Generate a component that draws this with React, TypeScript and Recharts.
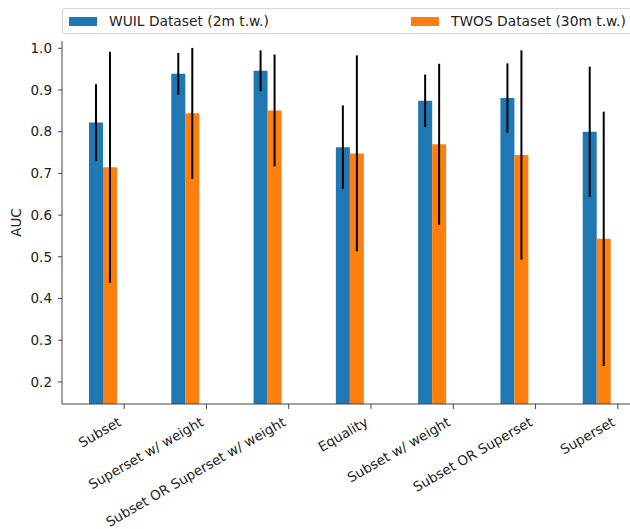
import { BarChart, Bar, XAxis, YAxis, ErrorBar, Legend, Label } from 'recharts';

const categories = [
  'Subset',
  'Superset w/ weight',
  'Subset OR Superset w/ weight',
  'Equality',
  'Subset w/ weight',
  'Subset OR Superset',
  'Superset',
];
const wuilAuc = [0.822, 0.939, 0.946, 0.763, 0.874, 0.881, 0.8];
const wuilErr = [0.092, 0.05, 0.049, 0.1, 0.063, 0.083, 0.156];
const twosAuc = [0.715, 0.844, 0.851, 0.748, 0.77, 0.744, 0.543];
const twosErr = [0.277, 0.157, 0.134, 0.235, 0.193, 0.251, 0.305];
const yTicks = [0.2, 0.3, 0.4, 0.5, 0.6, 0.7, 0.8, 0.9, 1.0];

const seriesNames = ['WUIL Dataset (2m t.w.)', 'TWOS Dataset (30m t.w.)'];
const seriesColors = ['#1f77b4', '#ff7f0e'];

const FONT = '"DejaVu Sans", sans-serif';

const data = categories.map((name, i) => ({
  name,
  wuil: wuilAuc[i],
  wuilErr: wuilErr[i],
  twos: twosAuc[i],
  twosErr: twosErr[i],
}));

function RotatedTick({ x, y, payload }: any) {
  const ax = x - 7;
  return (
    <text
      x={ax}
      y={y}
      dy="0.75em"
      textAnchor="end"
      transform={`rotate(-30, ${ax}, ${y})`}
      fontFamily={FONT}
      fontSize={13.5}
      fill="#222"
    >
      {payload.value}
    </text>
  );
}

function LegendBox() {
  const slots = [6, 348];
  return (
    <div
      style={{
        position: 'relative',
        height: 24,
        border: '1px solid #d6d6d6',
        borderRadius: 3,
        background: '#fff',
        fontFamily: FONT,
        fontSize: 13.8,
        color: '#222',
      }}
    >
      {seriesNames.map((name, i) => (
        <div
          key={name}
          style={{
            position: 'absolute',
            left: slots[i],
            top: 0,
            height: 24,
            display: 'flex',
            alignItems: 'center',
            whiteSpace: 'nowrap',
          }}
        >
          <span
            style={{
              display: 'inline-block',
              width: 28,
              height: 9,
              background: seriesColors[i],
              marginRight: 12,
            }}
          />
          {name}
        </div>
      ))}
    </div>
  );
}

export default function App() {
  return (
    <div
      style={{
        position: 'fixed',
        left: 0,
        top: 0,
        width: 630,
        height: 529,
        overflow: 'hidden',
        background: '#fff',
      }}
    >
      <BarChart
        width={659}
        height={529}
        data={data}
        margin={{ top: 41, right: 0, bottom: 0, left: 0 }}
        barGap={0}
        barSize={14}
      >
        <XAxis xAxisId="bars" dataKey="name" hide height={0} padding={{ left: 0, right: 21 }} />
        <XAxis
          xAxisId="ticks"
          dataKey="name"
          padding={{ left: 21, right: 0 }}
          height={125}
          interval={0}
          tickSize={5}
          tickMargin={7}
          axisLine={{ stroke: '#444' }}
          tickLine={{ stroke: '#444' }}
          tick={<RotatedTick />}
        />
        <XAxis
          xAxisId="top"
          orientation="top"
          dataKey="name"
          height={0}
          tick={false}
          tickLine={false}
          axisLine={{ stroke: '#999' }}
        />
        <YAxis
          type="number"
          domain={[0.147, 1.0175]}
          allowDataOverflow
          ticks={yTicks}
          tickFormatter={(v: number) => v.toFixed(1)}
          width={62}
          tickSize={4}
          tickMargin={6}
          axisLine={{ stroke: '#444' }}
          tickLine={{ stroke: '#444' }}
          tick={{ fontFamily: FONT, fontSize: 13.5, fill: '#222' }}
        >
          <Label
            content={({ viewBox }: any) => {
              const cx = viewBox.x + 16;
              const cy = viewBox.y + viewBox.height / 2;
              return (
                <text
                  x={cx}
                  y={cy}
                  transform={`rotate(-90, ${cx}, ${cy})`}
                  textAnchor="middle"
                  dominantBaseline="central"
                  fontFamily={FONT}
                  fontSize={13.5}
                  fill="#222"
                >
                  AUC
                </text>
              );
            }}
          />
        </YAxis>
        <Legend
          layout="horizontal"
          verticalAlign="middle"
          align="center"
          wrapperStyle={{ position: 'absolute', top: 8, left: 62, width: 640, height: 26 }}
          content={() => <LegendBox />}
        />
        <Bar xAxisId="bars" dataKey="wuil" name={seriesNames[0]} fill={seriesColors[0]} isAnimationActive={false}>
          <ErrorBar dataKey="wuilErr" width={0} strokeWidth={2} stroke="#000" direction="y" isAnimationActive={false} />
        </Bar>
        <Bar xAxisId="bars" dataKey="twos" name={seriesNames[1]} fill={seriesColors[1]} isAnimationActive={false}>
          <ErrorBar dataKey="twosErr" width={0} strokeWidth={2} stroke="#000" direction="y" isAnimationActive={false} />
        </Bar>
      </BarChart>
    </div>
  );
}
